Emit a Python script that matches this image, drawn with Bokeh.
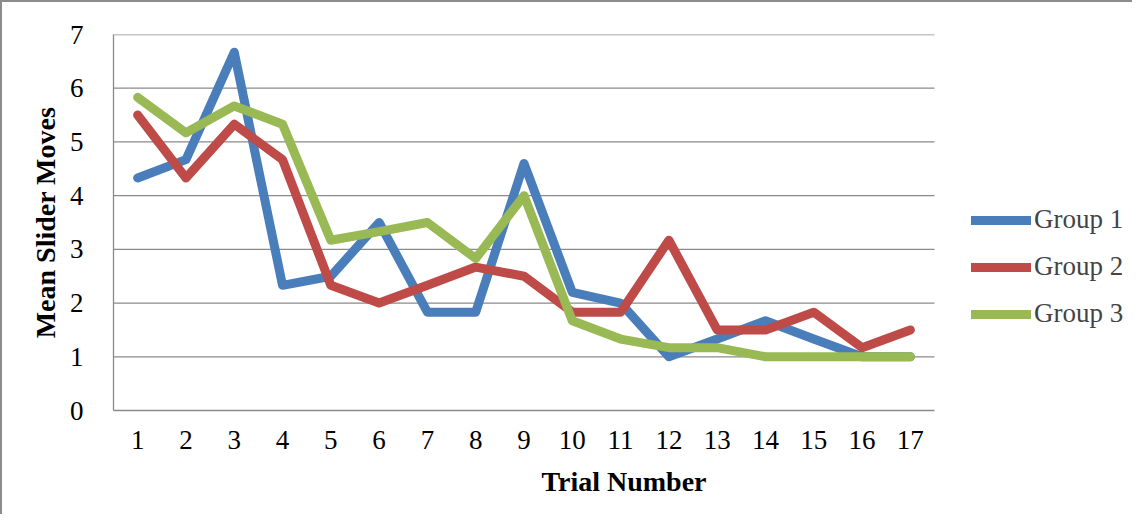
from bokeh.plotting import figure
from bokeh.models import Range1d, FixedTicker, Legend, LegendItem
from bokeh.embed import file_html
from bokeh.resources import INLINE

trials = [1, 2, 3, 4, 5, 6, 7, 8, 9, 10, 11, 12, 13, 14, 15, 16, 17]
group1 = [4.33, 4.67, 6.67, 2.33, 2.5, 3.5, 1.83, 1.83, 4.6, 2.2, 2.0, 1.0, 1.33, 1.67, 1.33, 1.0, 1.0]
group2 = [5.5, 4.33, 5.33, 4.67, 2.33, 2.0, 2.33, 2.67, 2.5, 1.83, 1.83, 3.17, 1.5, 1.5, 1.83, 1.17, 1.5]
group3 = [5.83, 5.17, 5.67, 5.33, 3.17, 3.33, 3.5, 2.83, 4.0, 1.67, 1.33, 1.17, 1.17, 1.0, 1.0, 1.0, 1.0]
names = ["Group 1", "Group 2", "Group 3"]
colors = ["#4A7EBB", "#BE4B48", "#98B954"]
y_ticks = [0, 1, 2, 3, 4, 5, 6, 7]

FONT = "Liberation Serif"
GRAY = "#8a8a8a"

W, H = 1132, 514
LEFT = 111
PLOT_W = 821          # width of the data area in pixels
FRAME_W = W - LEFT    # frame extends under the legend
x_start = 0.5
x_end_data = 17.5
x_end = x_start + (x_end_data - x_start) * FRAME_W / PLOT_W

p = figure(width=W, height=H, output_backend="svg", toolbar_location=None,
           x_range=Range1d(x_start, x_end), y_range=Range1d(0, 7),
           min_border_left=LEFT, min_border_right=0, min_border_top=32, min_border_bottom=106)
p.outline_line_color = None
p.styles = {"border-top": "2px solid #8c8c8c", "border-left": "2px solid #8c8c8c"}
p.xgrid.visible = False
p.ygrid.visible = False

# horizontal gridlines limited to the data area
grid_y = [t for t in y_ticks if t > 0]
p.segment(x0=[x_start] * len(grid_y), y0=grid_y, x1=[x_end_data] * len(grid_y), y1=grid_y,
          line_color=GRAY, line_width=1.3)

renderers = []
for ys, c in zip([group1, group2, group3], colors):
    r = p.line(trials, ys, line_color=c, line_width=9, line_join="round", line_cap="round")
    renderers.append(r)

p.xaxis.ticker = FixedTicker(ticks=trials)
p.yaxis.ticker = FixedTicker(ticks=y_ticks)
p.xaxis.bounds = (x_start, x_end_data)

for ax in [p.xaxis[0], p.yaxis[0]]:
    ax.axis_line_color = GRAY
    ax.axis_line_width = 1.3
    ax.major_tick_line_color = None
    ax.minor_tick_line_color = None
    ax.major_label_text_font = FONT
    ax.major_label_text_font_size = "27px"
    ax.major_label_text_color = "#000000"
    ax.axis_label_text_font = FONT
    ax.axis_label_text_font_size = "28px"
    ax.axis_label_text_font_style = "bold"
    ax.axis_label_text_color = "#000000"

p.xaxis.axis_label = "Trial Number"
p.yaxis.axis_label = "Mean Slider Moves"
p.xaxis.major_label_standoff = 14
p.yaxis.major_label_standoff = 24
p.xaxis.axis_label_standoff = 14
p.yaxis.axis_label_standoff = 6

legend = Legend(items=[LegendItem(label=n, renderers=[r]) for n, r in zip(names, renderers)],
                location=(858, 81), padding=0, margin=0, spacing=16,
                glyph_width=60, glyph_height=30, label_height=30, label_standoff=3,
                label_text_font=FONT, label_text_font_size="27px",
                background_fill_alpha=0, border_line_color=None)
p.add_layout(legend, "center")

open("out.html", "w").write(file_html(p, INLINE))
